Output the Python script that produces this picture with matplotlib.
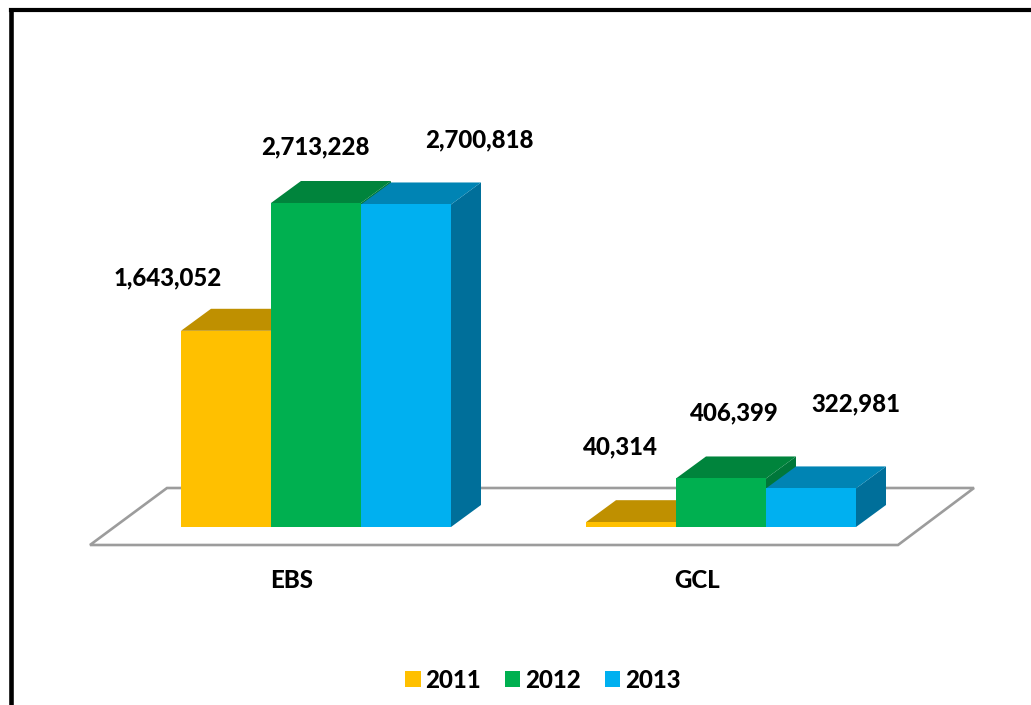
import numpy as np
import matplotlib
matplotlib.use('Agg')
import matplotlib.pyplot as plt
from matplotlib.patches import Patch, Polygon

categories = ['EBS', 'GCL']
years = ['2011', '2012', '2013']
values_2011 = [1643052, 40314]
values_2012 = [2713228, 406399]
values_2013 = [2700818, 322981]

front_colors = ['#FFC000', '#00B050', '#00B0F0']
top_colors = ['#BF9000', '#00843C', '#0084B4']
side_colors = ['#A67D00', '#00773A', '#006F9A']

# scale of the picture
PX_PER_CAT = 405.0
VAL_PER_PX = 8374.0
X0_PX = 316.0
Y0_PX = 527.0
bar_w = 90.0 / PX_PER_CAT
depth_x = 30.0 / PX_PER_CAT
depth_y = 22.0 * VAL_PER_PX

# label offsets from the bar top centre, in pixels
label_dx = [[-58, -1, 73], [-11, 13, 45]]
label_dy = [[53, 56, 65], [75, 66, 85]]


def px_x(p):
    return (p - X0_PX) / PX_PER_CAT


def px_y(p):
    return (Y0_PX - p) * VAL_PER_PX


plt.rcParams['font.family'] = ['Lato', 'DejaVu Sans']

fig = plt.figure(figsize=(10.31, 7.05), dpi=100)
ax = fig.add_axes([10.5 / 1031, 0, 1 - 10.5 / 1031, 695.0 / 705])
ax.set_xlim(px_x(10.5), px_x(1031))
ax.set_ylim(px_y(705), px_y(10))
ax.set_xticks([])
ax.set_yticks([])
ax.spines['right'].set_visible(False)
ax.spines['bottom'].set_visible(False)
ax.spines['left'].set_linewidth(3.3)
ax.spines['top'].set_linewidth(3.0)

# floor of the 3d box
floor = [(px_x(90), px_y(545)), (px_x(167), px_y(488)), (px_x(974), px_y(488)), (px_x(898), px_y(545))]
ax.add_patch(Polygon(floor, closed=True, facecolor='white', edgecolor='#9C9C9C', linewidth=1.9, zorder=1))

series = [values_2011, values_2012, values_2013]
x = np.arange(len(categories))
z = 2
for j, vals in enumerate(series):
    lefts = x + (j - 1.5) * bar_w
    for left, v in zip(lefts, vals):
        top = [(left, v), (left + depth_x, v + depth_y), (left + bar_w + depth_x, v + depth_y), (left + bar_w, v)]
        side = [(left + bar_w, 0), (left + bar_w + depth_x, depth_y), (left + bar_w + depth_x, v + depth_y), (left + bar_w, v)]
        ax.add_patch(Polygon(side, closed=True, facecolor=side_colors[j], edgecolor='none', zorder=z))
        ax.add_patch(Polygon(top, closed=True, facecolor=top_colors[j], edgecolor='none', zorder=z))
    ax.bar(lefts, vals, width=bar_w, align='edge', color=front_colors[j], zorder=z + 1)
    z += 2

# value labels
for i in range(len(categories)):
    for j, vals in enumerate(series):
        cx = i + (j - 1) * bar_w + label_dx[i][j] / PX_PER_CAT
        cy = vals[i] + label_dy[i][j] * VAL_PER_PX
        ax.text(cx, cy, '{:,}'.format(vals[i]), ha='center', va='center', fontsize=17.3, fontweight='black',
                color='black', zorder=20)

# category labels
for i, name in enumerate(categories):
    ax.text(i - 24 / PX_PER_CAT, px_y(580), name, ha='center', va='center', fontsize=17.3, fontweight='black',
            color='black', zorder=20)

handles = [Patch(facecolor=c, edgecolor='none', label=y) for c, y in zip(front_colors, years)]
ax.legend(handles=handles, loc='center', bbox_to_anchor=(px_x(543), px_y(680)), bbox_transform=ax.transData,
          ncol=3, frameon=False, prop={'size': 17.3, 'weight': 'black'}, handlelength=0.64, handleheight=0.64,
          handletextpad=0.2, columnspacing=1.0, borderpad=0)

fig.savefig('out.png', dpi=100)
